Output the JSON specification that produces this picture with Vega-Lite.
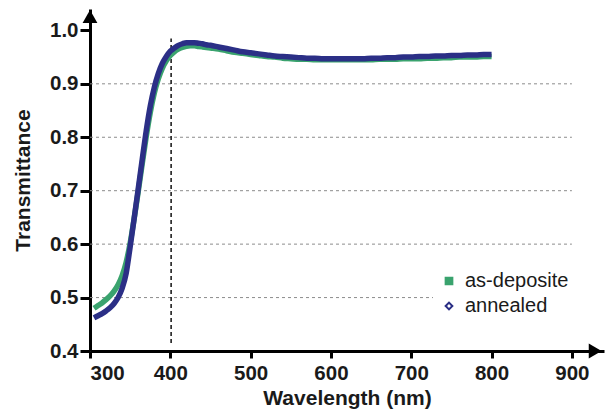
{
  "$schema": "https://vega.github.io/schema/vega-lite/v6.json",
  "width": 514,
  "height": 342,
  "autosize": {"type": "none"},
  "padding": {"left": 90, "top": 9, "right": 3, "bottom": 64},
  "background": "white",
  "datasets": {
    "curves": [
      {"wl": 305, "T": 0.480, "series": "as-deposite"},
      {"wl": 310, "T": 0.485, "series": "as-deposite"},
      {"wl": 315, "T": 0.490, "series": "as-deposite"},
      {"wl": 320, "T": 0.496, "series": "as-deposite"},
      {"wl": 325, "T": 0.503, "series": "as-deposite"},
      {"wl": 330, "T": 0.512, "series": "as-deposite"},
      {"wl": 335, "T": 0.524, "series": "as-deposite"},
      {"wl": 340, "T": 0.541, "series": "as-deposite"},
      {"wl": 345, "T": 0.566, "series": "as-deposite"},
      {"wl": 350, "T": 0.602, "series": "as-deposite"},
      {"wl": 355, "T": 0.648, "series": "as-deposite"},
      {"wl": 360, "T": 0.698, "series": "as-deposite"},
      {"wl": 365, "T": 0.750, "series": "as-deposite"},
      {"wl": 370, "T": 0.801, "series": "as-deposite"},
      {"wl": 375, "T": 0.846, "series": "as-deposite"},
      {"wl": 380, "T": 0.882, "series": "as-deposite"},
      {"wl": 385, "T": 0.909, "series": "as-deposite"},
      {"wl": 390, "T": 0.929, "series": "as-deposite"},
      {"wl": 395, "T": 0.943, "series": "as-deposite"},
      {"wl": 400, "T": 0.953, "series": "as-deposite"},
      {"wl": 405, "T": 0.960, "series": "as-deposite"},
      {"wl": 410, "T": 0.965, "series": "as-deposite"},
      {"wl": 415, "T": 0.968, "series": "as-deposite"},
      {"wl": 420, "T": 0.970, "series": "as-deposite"},
      {"wl": 425, "T": 0.971, "series": "as-deposite"},
      {"wl": 430, "T": 0.971, "series": "as-deposite"},
      {"wl": 435, "T": 0.970, "series": "as-deposite"},
      {"wl": 440, "T": 0.969, "series": "as-deposite"},
      {"wl": 445, "T": 0.968, "series": "as-deposite"},
      {"wl": 450, "T": 0.967, "series": "as-deposite"},
      {"wl": 460, "T": 0.965, "series": "as-deposite"},
      {"wl": 470, "T": 0.962, "series": "as-deposite"},
      {"wl": 480, "T": 0.959, "series": "as-deposite"},
      {"wl": 490, "T": 0.957, "series": "as-deposite"},
      {"wl": 500, "T": 0.955, "series": "as-deposite"},
      {"wl": 510, "T": 0.953, "series": "as-deposite"},
      {"wl": 520, "T": 0.951, "series": "as-deposite"},
      {"wl": 530, "T": 0.950, "series": "as-deposite"},
      {"wl": 540, "T": 0.948, "series": "as-deposite"},
      {"wl": 550, "T": 0.947, "series": "as-deposite"},
      {"wl": 560, "T": 0.946, "series": "as-deposite"},
      {"wl": 570, "T": 0.946, "series": "as-deposite"},
      {"wl": 580, "T": 0.945, "series": "as-deposite"},
      {"wl": 590, "T": 0.945, "series": "as-deposite"},
      {"wl": 600, "T": 0.945, "series": "as-deposite"},
      {"wl": 610, "T": 0.945, "series": "as-deposite"},
      {"wl": 620, "T": 0.945, "series": "as-deposite"},
      {"wl": 630, "T": 0.945, "series": "as-deposite"},
      {"wl": 640, "T": 0.945, "series": "as-deposite"},
      {"wl": 650, "T": 0.945, "series": "as-deposite"},
      {"wl": 660, "T": 0.946, "series": "as-deposite"},
      {"wl": 670, "T": 0.946, "series": "as-deposite"},
      {"wl": 680, "T": 0.946, "series": "as-deposite"},
      {"wl": 690, "T": 0.947, "series": "as-deposite"},
      {"wl": 700, "T": 0.947, "series": "as-deposite"},
      {"wl": 710, "T": 0.947, "series": "as-deposite"},
      {"wl": 720, "T": 0.948, "series": "as-deposite"},
      {"wl": 730, "T": 0.948, "series": "as-deposite"},
      {"wl": 740, "T": 0.949, "series": "as-deposite"},
      {"wl": 750, "T": 0.949, "series": "as-deposite"},
      {"wl": 760, "T": 0.950, "series": "as-deposite"},
      {"wl": 770, "T": 0.950, "series": "as-deposite"},
      {"wl": 780, "T": 0.950, "series": "as-deposite"},
      {"wl": 790, "T": 0.951, "series": "as-deposite"},
      {"wl": 800, "T": 0.951, "series": "as-deposite"},
      {"wl": 305, "T": 0.462, "series": "annealed"},
      {"wl": 310, "T": 0.466, "series": "annealed"},
      {"wl": 315, "T": 0.470, "series": "annealed"},
      {"wl": 320, "T": 0.475, "series": "annealed"},
      {"wl": 325, "T": 0.481, "series": "annealed"},
      {"wl": 330, "T": 0.489, "series": "annealed"},
      {"wl": 335, "T": 0.500, "series": "annealed"},
      {"wl": 340, "T": 0.517, "series": "annealed"},
      {"wl": 345, "T": 0.545, "series": "annealed"},
      {"wl": 350, "T": 0.595, "series": "annealed"},
      {"wl": 355, "T": 0.648, "series": "annealed"},
      {"wl": 360, "T": 0.703, "series": "annealed"},
      {"wl": 365, "T": 0.758, "series": "annealed"},
      {"wl": 370, "T": 0.812, "series": "annealed"},
      {"wl": 375, "T": 0.858, "series": "annealed"},
      {"wl": 380, "T": 0.893, "series": "annealed"},
      {"wl": 385, "T": 0.919, "series": "annealed"},
      {"wl": 390, "T": 0.938, "series": "annealed"},
      {"wl": 395, "T": 0.951, "series": "annealed"},
      {"wl": 400, "T": 0.961, "series": "annealed"},
      {"wl": 405, "T": 0.967, "series": "annealed"},
      {"wl": 410, "T": 0.972, "series": "annealed"},
      {"wl": 415, "T": 0.975, "series": "annealed"},
      {"wl": 420, "T": 0.977, "series": "annealed"},
      {"wl": 425, "T": 0.977, "series": "annealed"},
      {"wl": 430, "T": 0.977, "series": "annealed"},
      {"wl": 435, "T": 0.976, "series": "annealed"},
      {"wl": 440, "T": 0.975, "series": "annealed"},
      {"wl": 445, "T": 0.973, "series": "annealed"},
      {"wl": 450, "T": 0.972, "series": "annealed"},
      {"wl": 460, "T": 0.969, "series": "annealed"},
      {"wl": 470, "T": 0.966, "series": "annealed"},
      {"wl": 480, "T": 0.963, "series": "annealed"},
      {"wl": 490, "T": 0.960, "series": "annealed"},
      {"wl": 500, "T": 0.958, "series": "annealed"},
      {"wl": 510, "T": 0.956, "series": "annealed"},
      {"wl": 520, "T": 0.954, "series": "annealed"},
      {"wl": 530, "T": 0.952, "series": "annealed"},
      {"wl": 540, "T": 0.951, "series": "annealed"},
      {"wl": 550, "T": 0.950, "series": "annealed"},
      {"wl": 560, "T": 0.949, "series": "annealed"},
      {"wl": 570, "T": 0.948, "series": "annealed"},
      {"wl": 580, "T": 0.948, "series": "annealed"},
      {"wl": 590, "T": 0.947, "series": "annealed"},
      {"wl": 600, "T": 0.947, "series": "annealed"},
      {"wl": 610, "T": 0.947, "series": "annealed"},
      {"wl": 620, "T": 0.947, "series": "annealed"},
      {"wl": 630, "T": 0.947, "series": "annealed"},
      {"wl": 640, "T": 0.947, "series": "annealed"},
      {"wl": 650, "T": 0.948, "series": "annealed"},
      {"wl": 660, "T": 0.948, "series": "annealed"},
      {"wl": 670, "T": 0.949, "series": "annealed"},
      {"wl": 680, "T": 0.949, "series": "annealed"},
      {"wl": 690, "T": 0.950, "series": "annealed"},
      {"wl": 700, "T": 0.950, "series": "annealed"},
      {"wl": 710, "T": 0.951, "series": "annealed"},
      {"wl": 720, "T": 0.951, "series": "annealed"},
      {"wl": 730, "T": 0.952, "series": "annealed"},
      {"wl": 740, "T": 0.952, "series": "annealed"},
      {"wl": 750, "T": 0.953, "series": "annealed"},
      {"wl": 760, "T": 0.953, "series": "annealed"},
      {"wl": 770, "T": 0.954, "series": "annealed"},
      {"wl": 780, "T": 0.954, "series": "annealed"},
      {"wl": 790, "T": 0.955, "series": "annealed"},
      {"wl": 800, "T": 0.955, "series": "annealed"}
    ],
    "grid": [
      {"T": 0.5}, {"T": 0.6}, {"T": 0.7}, {"T": 0.8}, {"T": 0.9}
    ],
    "vline": [
      {"wl": 401, "T": 0.415, "T2": 0.985}
    ]
  },
  "layer": [
    {
      "data": {"name": "grid"},
      "mark": {"type": "rule", "color": "#8c8c8c", "strokeWidth": 1, "strokeDash": [3, 3]},
      "encoding": {
        "x": {"datum": 300, "type": "quantitative", "scale": {"domain": [300, 940], "nice": false, "zero": false}},
        "x2": {"datum": 900},
        "y": {"field": "T", "type": "quantitative", "scale": {"domain": [0.4, 1.04], "nice": false, "zero": false}}
      }
    },
    {
      "data": {"name": "vline"},
      "mark": {"type": "rule", "color": "#111111", "strokeWidth": 1.5, "strokeDash": [4, 3]},
      "encoding": {
        "x": {"field": "wl", "type": "quantitative"},
        "y": {"field": "T", "type": "quantitative"},
        "y2": {"field": "T2"}
      }
    },
    {
      "data": {"name": "curves"},
      "mark": {"type": "line", "strokeWidth": 5.5, "interpolate": "monotone"},
      "encoding": {
        "x": {"field": "wl", "type": "quantitative"},
        "y": {"field": "T", "type": "quantitative"},
        "stroke": {"field": "series", "type": "nominal", "scale": {"domain": ["as-deposite", "annealed"], "range": ["#3aa36e", "#2b2f86"]}, "legend": {"title": null, "orient": "none", "legendX": 343, "legendY": 256, "symbolOpacity": 1}},
        "order": {"field": "wl"}
      }
    },
    {
      "data": {"name": "curves"},
      "mark": {"type": "point", "size": 14, "strokeWidth": 2, "opacity": 0},
      "encoding": {
        "x": {"field": "wl", "type": "quantitative", "title": "Wavelength (nm)", "axis": {"values": [300, 400, 500, 600, 700, 800, 900], "titlePadding": 4, "labelPadding": 5, "tickSize": 7}},
        "y": {"field": "T", "type": "quantitative", "title": "Transmittance", "axis": {"values": [0.4, 0.5, 0.6, 0.7, 0.8, 0.9, 1.0], "format": ".1f", "titlePadding": 16, "tickSize": 10, "labelPadding": 2}},
        "shape": {
          "field": "series", "type": "nominal",
          "scale": {"domain": ["as-deposite", "annealed"], "range": ["square", "diamond"]},
          "legend": {"title": null, "orient": "none", "legendX": 343, "legendY": 256, "symbolOpacity": 1}
        },
        "stroke": {"field": "series", "type": "nominal", "legend": {"title": null, "orient": "none", "legendX": 343, "legendY": 256, "symbolOpacity": 1}},
        "fill": {"field": "series", "type": "nominal", "scale": {"domain": ["as-deposite", "annealed"], "range": ["#3aa36e", "#ffffff"]}, "legend": {"title": null, "orient": "none", "legendX": 343, "legendY": 256, "symbolOpacity": 1}}
      }
    },
    {
      "data": {"values": [{"wl": 929, "T": 0.4}]},
      "mark": {"type": "point", "shape": "triangle-right", "size": 220, "filled": true, "color": "black", "opacity": 1},
      "encoding": {
        "x": {"field": "wl", "type": "quantitative"},
        "y": {"field": "T", "type": "quantitative"}
      }
    },
    {
      "data": {"values": [{"wl": 300, "T": 1.026}]},
      "mark": {"type": "point", "shape": "triangle-up", "size": 220, "filled": true, "color": "black", "opacity": 1},
      "encoding": {
        "x": {"field": "wl", "type": "quantitative"},
        "y": {"field": "T", "type": "quantitative"}
      }
    }
  ],
  "config": {
    "view": {"stroke": null},
    "font": "Liberation Sans",
    "legend": {
      "orient": "none",
      "legendX": 343,
      "legendY": 256,
      "fillColor": "white",
      "padding": 6,
      "labelFont": "Liberation Sans",
      "labelFontSize": 20,
      "labelColor": "#1a1a1a",
      "symbolSize": 45,
      "symbolStrokeWidth": 2,
      "symbolOpacity": 1,
      "rowPadding": 5,
      "labelOffset": 6
    },
    "axis": {
      "grid": false,
      "domainColor": "black",
      "domainWidth": 3,
      "tickColor": "black",
      "tickWidth": 3,
      "labelFont": "Liberation Sans",
      "labelFontWeight": "bold",
      "labelFontSize": 20.5,
      "labelColor": "#1a1a1a",
      "titleFont": "Liberation Sans",
      "titleFontWeight": "bold",
      "titleFontSize": 21,
      "titleColor": "#1a1a1a"
    }
  }
}
